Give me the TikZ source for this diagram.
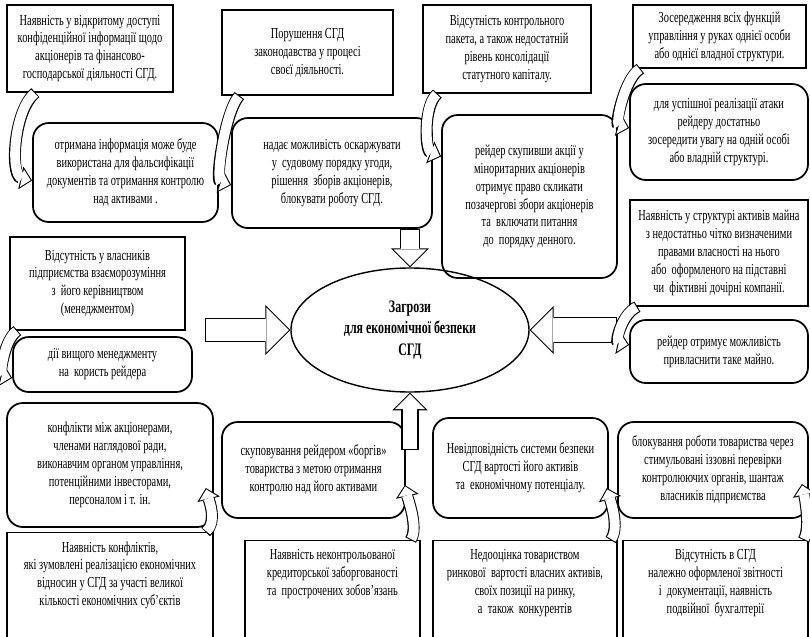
\documentclass[tikz,border=0pt]{standalone}
\usepackage{fontspec}
\setmainfont{Liberation Serif}[FakeStretch=0.68]
\usetikzlibrary{arrows.meta,shapes.geometric}

\tikzset{
  factor/.style={draw,line width=0.7pt,align=center,inner sep=2pt},
  effect/.style={draw,line width=1pt,rounded corners=9pt,align=center,inner sep=2pt},
  % hollow arrow: white body over a black one, #1 = body width, #2 = head length
  hollow/.code 2 args={%
    \pgfmathsetlengthmacro\hwout{2*(#2)}%
    \pgfmathsetlengthmacro\hlin{(#2)-1.45pt}%
    \pgfmathsetlengthmacro\hwin{2*(#2)-2.9pt}%
    \pgfmathsetlengthmacro\hlw{(#1)+1.2pt}%
    \edef\hollowopts{draw=white,line width=#1,shorten <=0.6pt,shorten >=0.85pt,
      -{Triangle[length=\hlin,width=\hwin,line width=0pt]},
      preaction={draw=black,line width=\hlw,shorten <=0pt,shorten >=0pt,
        -{Triangle[length=#2,width=\hwout,line width=0pt]}}}%
    \expandafter\tikzset\expandafter{\hollowopts}%
  },
  curl/.style={hollow={5.6pt}{6.6pt}}
}

\begin{document}
\begin{tikzpicture}[x=0.2mm,y=-0.2mm,font=\fontsize{8.7}{10.2}\selectfont]
\useasboundingbox (0,0) rectangle (810,637);
\clip (0,0) rectangle (810,637);

% top row
\node[factor,minimum width=33.2mm,minimum height=17.4mm] (f1) at (90,48.5)
  {Наявність у відкритому доступі\\конфіденційної інформації щодо\\акціонерів та фінансово-\\господарської діяльності СГД.};
\node[effect,minimum width=37mm,minimum height=19.8mm] (e1) at (125.5,172.5)
  {отримана інформація може буде\\використана для фальсифікації\\документів та отримання контролю\\над активами .};
\node[factor,minimum width=34.2mm,minimum height=17mm] (f2) at (307.5,52.5)
  {Порушення СГД\\законодавства у процесі\\своєї діяльності.};
\node[effect,minimum width=40mm,minimum height=22mm] (e2) at (332,173)
  {надає можливість оскаржувати\\у~ судовому порядку угоди,\\рішення~ зборів акціонерів,\\блокувати роботу СГД.};
\node[factor,minimum width=33.6mm,minimum height=17.6mm] (f3) at (507,49)
  {Відсутність контрольного\\пакета, а також недостатній\\рівень консолідації\\статутного капіталу.};
\node[effect,minimum width=35mm,minimum height=32.6mm] (e3) at (529.5,196.5)
  {рейдер скупивши акції у\\міноритарних акціонерів\\отримує право скликати\\позачергові збори акціонерів\\та~ включати питання\\до~ порядку денного.};
\node[factor,minimum width=34.6mm,minimum height=12.6mm] (f4) at (719.5,36.5)
  {Зосередження всіх функцій\\управління у руках однієї особи\\або однієї владної структури.};
\node[effect,minimum width=35.6mm,minimum height=19.2mm] (e4) at (719,132)
  {для успішної реалізації атаки\\рейдеру достатньо\\зосередити увагу на одній особі\\або владній структурі.};

% sides
\node[factor,minimum width=35.6mm,minimum height=21.2mm] (f5) at (719,253)
  {Наявність у структурі активів майна\\з недостатньо чітко визначеними\\правами власності на нього\\або~ оформленого на підставні\\чи~ фіктивні дочірні компанії.};
\node[effect,minimum width=35.6mm,minimum height=12.6mm] (e5) at (719,351.5)
  {рейдер отримує можливість\\привласнити таке майно.};
\node[factor,minimum width=35mm,minimum height=18.6mm] (f6) at (97.5,283.5)
  {Відсутність у власників\\підприємства взаєморозуміння\\з~ його керівництвом\\(менеджментом)};
\node[effect,minimum width=35.8mm,minimum height=11mm] (e6) at (102.5,364.5)
  {дії вищого менеджменту\\на~ користь рейдера};

% bottom rows
\node[effect,minimum width=41.2mm,minimum height=24.8mm] (e7) at (110,465)
  {конфлікти між акціонерами,\\членами наглядової ради,\\виконавчим органом управління,\\потенційними інвесторами,\\персоналом і т. ін.};
\node[factor,minimum width=41.2mm,anchor=north,inner ysep=5pt,text depth=50pt] (f7) at (110,532)
  {Наявність конфліктів,\\які зумовлені реалізацією економічних\\відносин у СГД за участі великої\\кількості економічних суб’єктів};
\node[effect,minimum width=36.6mm,minimum height=19.2mm] (e8) at (313.5,470)
  {скуповування рейдером «боргів»\\товариства з метою отримання\\контролю над його активами};
\node[factor,minimum width=35mm,anchor=north,inner ysep=5pt,text depth=50pt] (f8) at (332.5,540)
  {Наявність неконтрольованої\\кредиторської заборгованості\\та~ прострочених зобов’язань};
\node[effect,minimum width=35mm,minimum height=20mm] (e9) at (520.5,468)
  {Невідповідність системи безпеки\\СГД вартості його активів\\та~ економічному потенціалу.};
\node[factor,minimum width=36.8mm,anchor=north,inner ysep=5pt,text depth=50pt] (f9) at (525,540)
  {Недооцінка товариством\\ринкової~ вартості власних активів,\\своїх позиції на ринку,\\а~ також~ конкурентів};
\node[effect,minimum width=38mm,minimum height=19.2mm] (e10) at (713,470)
  {блокування роботи товариства через\\стимульовані іззовні перевірки\\контролюючих органів, шантаж\\власників підприємства};
\node[factor,minimum width=37mm,anchor=north,inner ysep=5pt,text depth=50pt] (f10) at (715.5,540)
  {Відсутність в СГД\\належно оформленої звітності\\і~ документації, наявність\\подвійної~ бухгалтерії};

% centre
\node[ellipse,draw,line width=0.8pt,minimum width=47.6mm,minimum height=24.8mm,inner sep=0pt,
  align=center,font=\fontsize{10}{12}\selectfont\bfseries] (threat) at (410,330)
  {Загрози\\для економічної безпеки\\СГД};

\coordinate (ltail) at (205,330);
\coordinate (rtail) at (617,330);
\coordinate (utail) at (410,450);
\draw[hollow={13pt}{14.2pt}] (ltail) -- (threat.west);
\draw[hollow={13.6pt}{13.6pt}] (rtail) -- (threat.east);
\draw[hollow={10.2pt}{10.8pt}] (threat.north |- e2.south) -- (threat.north);
\draw[hollow={8.5pt}{10pt}] (threat.south |- utail) -- (threat.south);

% curled links from each factor to its effect
\draw[curl] ([shift={(29,0)}]f1.south west) .. controls +(-22,18) and +(-22,-5) .. ([shift={(0,8)}]e1.west);
\draw[curl] ([shift={(18,0)}]f2.south west) .. controls +(-14,15) and +(-16,-5) .. ([shift={(0,12)}]e2.west);
\draw[curl] ([shift={(15,0)}]f3.south west) .. controls +(-14,12) and +(-16,-6) .. ([shift={(0,-40)}]e3.west);
\draw[curl] ([shift={(8,0)}]f4.south west) .. controls +(-16,10) and +(-14,-4) .. ([shift={(0,-4)}]e4.west);
\draw[curl] ([shift={(8,0)}]f5.south west) .. controls +(-16,8) and +(-14,-3) .. ([shift={(0,-6.5)}]e5.west);
\draw[curl] ([shift={(8,0)}]f6.south west) .. controls +(-14,10) and +(-12,-3) .. ([shift={(0,13.5)}]e6.west);
\draw[curl] ([shift={(-8,0)}]f7.north east) .. controls +(12,-10) and +(3,12) .. ([shift={(-8,23)}]e7.east);
\draw[curl] ([shift={(-10,0)}]f8.north east) .. controls +(8,-12) and +(3,14) .. ([shift={(-1,15)}]e8.east);
\draw[curl] ([shift={(-7,0)}]f9.north east) .. controls +(9,-12) and +(4,14) .. ([shift={(-2,20)}]e9.east);
\draw[curl] ([shift={(-5,0)}]f10.north east) .. controls +(7,-12) and +(3,14) .. ([shift={(-7,14)}]e10.east);
\end{tikzpicture}
\end{document}
